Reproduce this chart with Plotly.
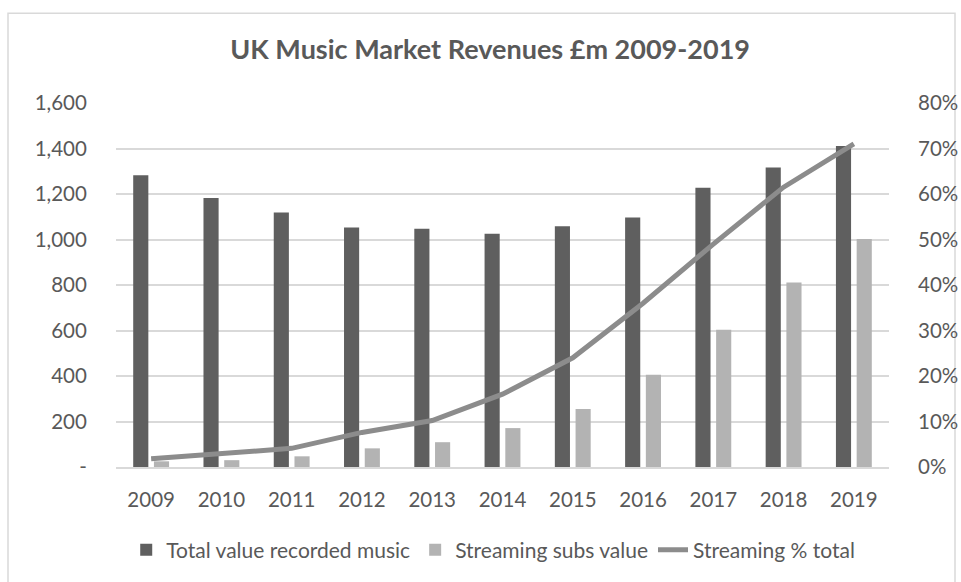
import plotly.graph_objects as go

years = ["2009", "2010", "2011", "2012", "2013", "2014", "2015", "2016", "2017", "2018", "2019"]
total_value = [1282, 1182, 1119, 1053, 1047, 1025, 1058, 1097, 1227, 1316, 1411]
streaming_value = [25, 30, 47, 82, 109, 171, 255, 406, 603, 811, 1002]
streaming_pct = [1.8, 2.9, 4.1, 7.6, 10.2, 16.0, 24.0, 36.0, 49.0, 61.5, 71.0]

left_ticks = [0, 200, 400, 600, 800, 1000, 1200, 1400, 1600]
left_text = ["-", "200", "400", "600", "800", "1,000", "1,200", "1,400", "1,600"]
right_ticks = [0, 10, 20, 30, 40, 50, 60, 70, 80]
right_text = [f"{v}%" for v in right_ticks]

FONT = "Lato"
TXT = "#595959"

fig = go.Figure()
fig.add_trace(go.Bar(x=years, y=total_value, name="Total value recorded music",
                     marker=dict(color="#5f5f5f", line=dict(width=0))))
fig.add_trace(go.Bar(x=years, y=streaming_value, name="Streaming subs value",
                     marker=dict(color="#b3b3b3", line=dict(width=0))))
fig.add_trace(go.Scatter(x=years, y=streaming_pct, name="Streaming % total", yaxis="y2",
                         mode="lines", line=dict(color="#8c8c8c", width=5)))

fig.update_layout(
    width=961, height=582,
    paper_bgcolor="white", plot_bgcolor="white",
    margin=dict(l=116, r=72, t=103, b=114),
    barmode="group", bargap=0.41, bargroupgap=0.27,
    font=dict(family=FONT, color=TXT, size=20),
    title=dict(text="<b>UK Music Market Revenues £m 2009-2019</b>", x=0.51, xref="container",
               y=1 - 50 / 582, yref="container", xanchor="center", yanchor="middle",
               font=dict(family=FONT, size=27, color=TXT)),
    xaxis=dict(showgrid=False, showline=True, linecolor="#d9d9d9", linewidth=1.5,
               ticks="outside", ticklen=14, tickcolor="rgba(0,0,0,0)", automargin=False,
               tickfont=dict(size=20.5, color=TXT), fixedrange=True),
    yaxis=dict(range=[0, 1600], tickvals=left_ticks, ticktext=left_text,
               showgrid=True, gridcolor="#d9d9d9", gridwidth=1.5, zeroline=False,
               ticks="outside", ticklen=24, tickcolor="rgba(0,0,0,0)", automargin=False,
               tickfont=dict(size=20.5, color=TXT)),
    yaxis2=dict(range=[0, 80], tickvals=right_ticks, ticktext=right_text,
                overlaying="y", side="right", showgrid=False, zeroline=False,
                ticks="outside", ticklen=24, tickcolor="rgba(0,0,0,0)", automargin=False,
                tickfont=dict(size=20.5, color=TXT)),
    legend=dict(orientation="h", x=0.488, xanchor="center", y=-0.225, yanchor="middle",
                font=dict(size=21, color=TXT), itemwidth=30, traceorder="normal",
                bgcolor="rgba(0,0,0,0)"),
    shapes=[dict(type="rect", xref="paper", yref="paper",
                 x0=-108 / 773, x1=(955 - 116) / 773, y0=-0.5, y1=(468 - 13) / 365,
                 line=dict(color="#d9d9d9", width=1.5), fillcolor="rgba(0,0,0,0)", layer="below")],
)

fig.write_html("out.html")
